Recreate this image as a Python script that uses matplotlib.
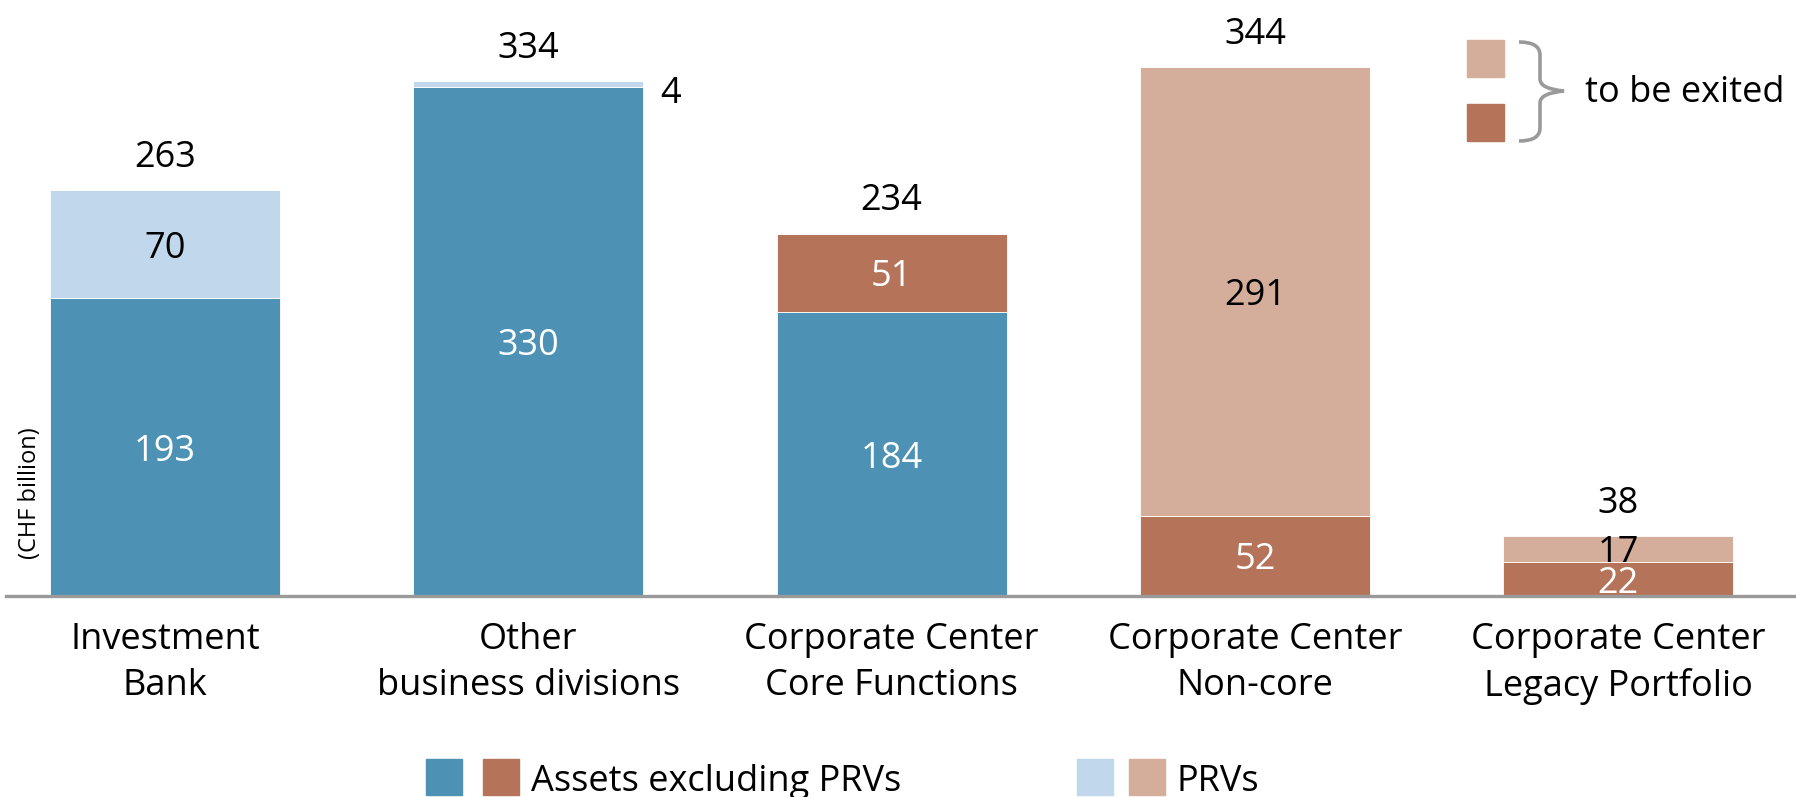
import numpy as np
import matplotlib.pyplot as plt
from matplotlib.path import Path
from matplotlib.patches import PathPatch, Rectangle

plt.rcParams['font.family'] = ['Open Sans', 'DejaVu Sans']

# --- data (CHF billion)
categories = ["Investment\nBank", "Other\nbusiness divisions", "Corporate Center\nCore Functions",
              "Corporate Center\nNon-core", "Corporate Center\nLegacy Portfolio"]
core_assets = [193, 330, 184, 0, 0]      # assets excluding PRVs (kept)
core_prvs = [70, 4, 0, 0, 0]             # PRVs (kept)
exit_assets = [0, 0, 51, 52, 22]         # assets excluding PRVs, to be exited
exit_prvs = [0, 0, 0, 291, 17]           # PRVs, to be exited
totals = [263, 334, 234, 344, 38]

BLUE = "#4d92b5"
LBLUE = "#c1d7eb"
BROWN = "#b5735a"
LBROWN = "#d4ad9b"
GREY = "#9a9a9a"
FS = 26

W, H = 1796, 797
fig = plt.figure(figsize=(W / 100, H / 100), dpi=100, facecolor="white")

def fx(px):
    return px / W

def fy(py):
    return 1 - py / H

base_px = 596
ax = fig.add_axes([0, fy(base_px), 1, base_px / H])
ax.set_xlim(-0.454, 4.489)
ax.set_ylim(0, 386.5)
for s in ax.spines.values():
    s.set_visible(False)
ax.set_yticks([])

x = np.arange(len(categories))
bw = 0.633
half_digit = 8.75   # half the digit height, in data units
series = [(core_assets, BLUE, "white"), (core_prvs, LBLUE, "black"),
          (exit_assets, BROWN, "white"), (exit_prvs, LBROWN, "black")]
bottom = np.zeros(len(categories))
for vals, col, tcol in series:
    vals = np.array(vals, dtype=float)
    ax.bar(x, vals, bw, bottom=bottom, color=col, edgecolor="white", linewidth=0.6, zorder=2)
    for i, v in enumerate(vals):
        if v >= 10:
            ax.text(x[i], bottom[i] + v / 2 - half_digit, f"{v:.0f}", ha="center", va="baseline",
                    color=tcol, fontsize=FS, zorder=3)
        elif v > 0:
            ax.text(x[i] + bw / 2 + 0.047, bottom[i] + v / 2 - 12, f"{v:.0f}", ha="left",
                    va="baseline", color="black", fontsize=FS, zorder=3)
    bottom += vals

for i, t in enumerate(totals):
    ax.text(x[i], bottom[i] + 15, str(t), ha="center", va="baseline", fontsize=FS, color="black")

ax.axhline(0, xmin=6 / W, xmax=1, color=GREY, lw=2.4, clip_on=False, zorder=4)

ax.set_xticks(x)
ax.set_xticklabels(categories, fontsize=FS, linespacing=1.34)
ax.tick_params(axis="x", length=0, pad=19)

fig.text(fx(30), fy(493), "(CHF billion)", rotation=90, ha="center", va="center", fontsize=17)

# top-right key
for y0, col in [(40, LBROWN), (104, BROWN)]:
    fig.patches.append(Rectangle((fx(1467), fy(y0 + 37)), 37 / W, 37 / H, color=col,
                                 transform=fig.transFigure, figure=fig))
bx0, bx1, bxt = 1519, 1540, 1564
verts = [(bx0, 42), (bx1, 42), (bx1, 55), (bx1, 66),
         (bx1, 79), (bx1, 89), (bxt, 91),
         (bx1, 93), (bx1, 103), (bx1, 116),
         (bx1, 128), (bx1, 141), (bx0, 141)]
codes = [Path.MOVETO, Path.CURVE3, Path.CURVE3, Path.LINETO,
         Path.LINETO, Path.CURVE3, Path.CURVE3,
         Path.CURVE3, Path.CURVE3, Path.LINETO,
         Path.LINETO, Path.CURVE3, Path.CURVE3]
brace = Path([(fx(a), fy(b)) for a, b in verts], codes)
fig.patches.append(PathPatch(brace, facecolor="none", edgecolor=GREY, lw=2.6,
                             transform=fig.transFigure, figure=fig))
fig.text(fx(1585), fy(102), "to be exited", ha="left", va="baseline", fontsize=FS)

# bottom legend
for xl, col in [(426, BLUE), (483, BROWN), (1077, LBLUE), (1129, LBROWN)]:
    fig.patches.append(Rectangle((fx(xl), fy(795)), 36 / W, 36 / H, color=col,
                                 transform=fig.transFigure, figure=fig))
fig.text(fx(531), fy(791), "Assets excluding PRVs", ha="left", va="baseline", fontsize=FS)
fig.text(fx(1177), fy(791), "PRVs", ha="left", va="baseline", fontsize=FS)

fig.savefig("out.png", dpi=100, facecolor="white")
